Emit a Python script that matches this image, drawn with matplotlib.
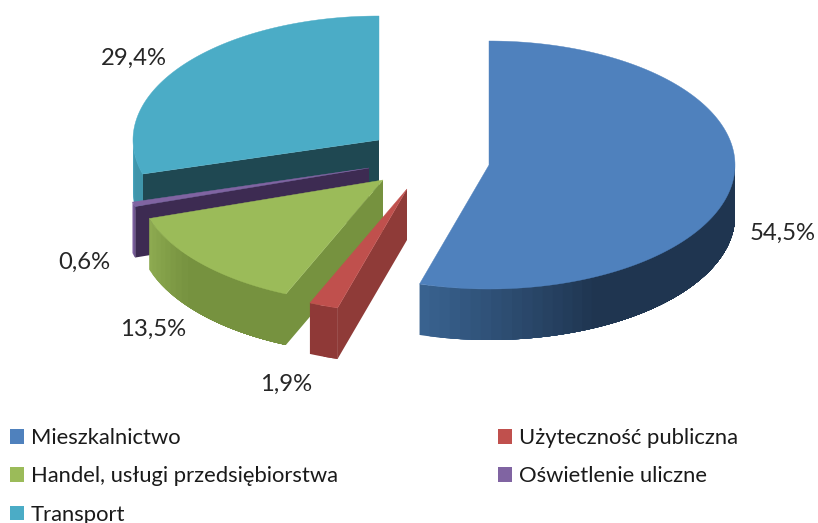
import numpy as np
import matplotlib
matplotlib.use("Agg")
import matplotlib.pyplot as plt
from matplotlib.patches import Polygon, Patch
from matplotlib.colors import to_rgb

# --- data ---
categories = ["Mieszkalnictwo", "Użyteczność publiczna", "Handel, usługi przedsiębiorstwa",
              "Oświetlenie uliczne", "Transport"]
values = [54.5, 1.9, 13.5, 0.6, 29.4]

# --- style / layout ---
top_colors = ["#4F81BD", "#C0504D", "#9BBB59", "#8064A2", "#4BACC6"]
cut_colors = ["#24405F", "#8F3B38", "#76923F", "#3D2B52", "#1F4852"]
side_start = ["#39628F", "#8F3937", "#8DAA50", "#8064A2", "#4BACC6"]
side_end = ["#1F3550", "#8F3937", "#76923F", "#6F5690", "#3F95AB"]
apex = [(489, 165), (407, 189), (383, 180), (369, 168), (379, 140)]
label_pos = [(783, 233), (286, 384), (153, 329), (84, 262), (134, 58)]
RX, RY, DEPTH = 246, 124, 51
W, H = 818, 523
FONT = "Lato"
plt.rcParams["font.family"] = [FONT, "DejaVu Sans"]

fig = plt.figure(figsize=(W / 100, H / 100), dpi=100)
ax = fig.add_axes([0, 0, 1, 1])
ax.set_xlim(0, W)
ax.set_ylim(H, 0)
ax.axis("off")


def pt(c, th):
    return c[0] + RX * np.sin(th), c[1] - RY * np.cos(th)


def draw_wedge(i, a0, a1):
    c = apex[i]
    # cut face, visible when it looks towards the viewer
    if np.sin(a0) < 0:
        x, y = pt(c, a0)
        ax.add_patch(Polygon([c, (x, y), (x, y + DEPTH), (c[0], c[1] + DEPTH)],
                             closed=True, fc=cut_colors[i], ec="none"))
    # outer rim, visible on the lower half of the ellipse
    lo, hi = max(a0, np.pi / 2), min(a1, 3 * np.pi / 2)
    if hi > lo:
        n = max(2, int((hi - lo) * 24))
        ths = np.linspace(hi, lo, n + 1)
        cs, ce = np.array(to_rgb(side_start[i])), np.array(to_rgb(side_end[i]))
        for k in range(n):
            t = min(1.0, (k / n) * 2.6)
            col = tuple(cs + (ce - cs) * t)
            # each strip runs on to the far end of the rim, the next one paints over it
            arc = np.linspace(ths[k], lo, max(2, 3 * (n - k) + 1))
            xs, ys = pt(c, arc)
            ring = np.vstack([np.column_stack([xs, ys]),
                              np.column_stack([xs[::-1], ys[::-1] + DEPTH])])
            ax.add_patch(Polygon(ring, closed=True, fc=col, ec="none"))
    # top face
    ths = np.linspace(a0, a1, 200)
    xs, ys = pt(c, ths)
    ax.add_patch(Polygon(np.vstack([[c], np.column_stack([xs, ys])]),
                         closed=True, fc=top_colors[i], ec=top_colors[i], lw=0.3))


fractions = np.array(values) / np.sum(values)
edges = np.concatenate([[0], np.cumsum(fractions)]) * 2 * np.pi
for i in [4, 3, 2, 1, 0]:
    draw_wedge(i, edges[i], edges[i + 1])

for v, (x, y) in zip(values, label_pos):
    ax.text(x, y, f"{v:.1f}%".replace(".", ","), ha="center", va="center",
            fontsize=17.2, color="#262626")

# legend
fs = 15.85
fs_px = fs / 0.72
order = [0, 2, 4, 1, 3]
handles = [Patch(fc=top_colors[i], ec="none") for i in order]
leg = ax.legend(handles, [categories[i] for i in order], ncol=2, frameon=False,
                fontsize=fs, loc="upper left", bbox_to_anchor=(10 / W, 1 - 428 / H),
                bbox_transform=fig.transFigure, borderaxespad=0, borderpad=0,
                handlelength=14 / fs_px, handleheight=14 / fs_px,
                handletextpad=7 / fs_px, labelspacing=0.83,
                columnspacing=7.25, labelcolor="#1a1a1a")

fig.savefig("out.png", dpi=100, facecolor="white")
